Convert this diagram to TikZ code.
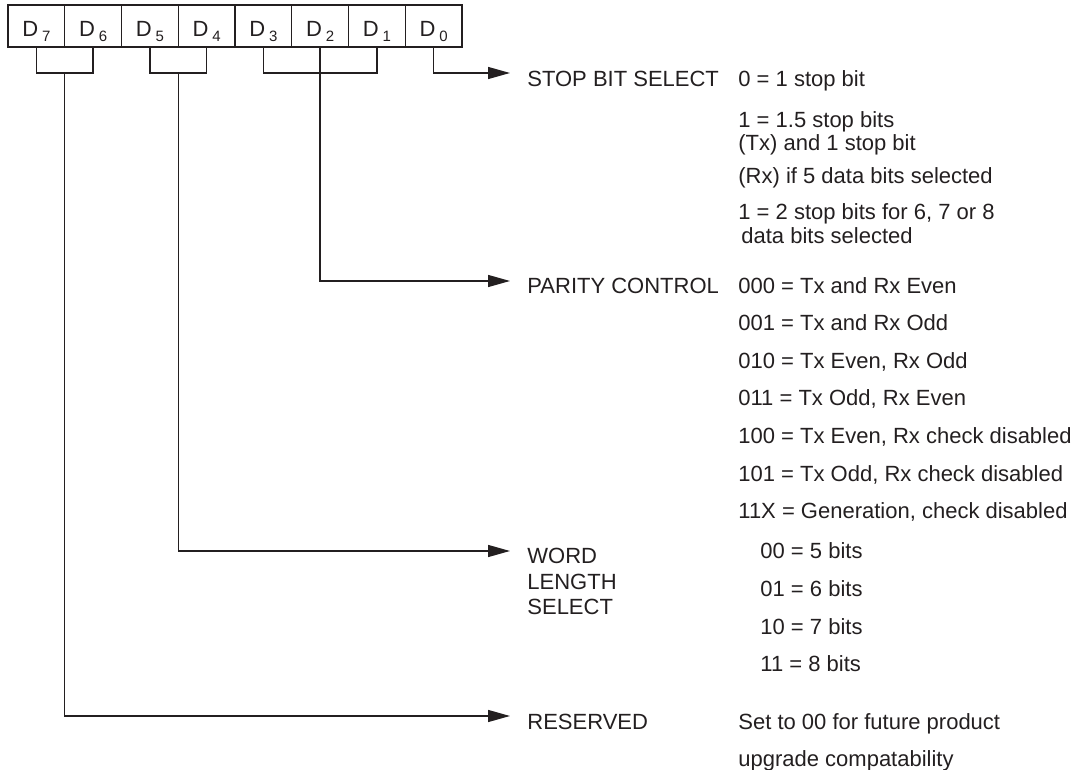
\documentclass[tikz,border=0pt]{standalone}
\usepackage{fontspec}
\setmainfont{Liberation Sans}
\usetikzlibrary{arrows.meta}
\definecolor{ink}{RGB}{35,31,32}
\newcommand{\bitlbl}[1]{D\kern2pt\raisebox{-2.5pt}{\fontsize{7.5}{8}\selectfont #1}}
\begin{document}
\begin{tikzpicture}[x=0.5pt,y=-0.5pt,
  ln/.style={draw=ink,line width=0.7pt},
  arr/.style={ln,-{Triangle[length=11pt,width=6pt]}},
  cell/.style={draw=ink,line width=0.7pt,minimum width=28.375pt,minimum height=21pt,inner sep=0pt},
  txt/.style={anchor=base west,inner sep=0pt,text=ink,font=\fontsize{11}{13}\selectfont},
  lab/.style={anchor=base,inner sep=0pt,text=ink,font=\fontsize{11}{13}\selectfont},
]
\useasboundingbox (0,0) rectangle (1083,770);
% register cells
\node[cell] (c7) at (36.375,26) {};
\node[cell] (c6) at (93.125,26) {};
\node[cell] (c5) at (149.875,26) {};
\node[cell] (c4) at (206.625,26) {};
\node[cell] (c3) at (263.375,26) {};
\node[cell] (c2) at (320.125,26) {};
\node[cell] (c1) at (376.875,26) {};
\node[cell] (c0) at (433.625,26) {};
% cell labels
\node[lab] (l7) at (36.375,37) {\bitlbl{7}};
\node[lab] (l6) at (93.125,37) {\bitlbl{6}};
\node[lab] (l5) at (149.875,37) {\bitlbl{5}};
\node[lab] (l4) at (206.625,37) {\bitlbl{4}};
\node[lab] (l3) at (263.375,37) {\bitlbl{3}};
\node[lab] (l2) at (320.125,37) {\bitlbl{2}};
\node[lab] (l1) at (376.875,37) {\bitlbl{1}};
\node[lab] (l0) at (433.625,37) {\bitlbl{0}};
% junctions and arrow ends
\coordinate (j76) at (64.75,73);
\coordinate (j54) at (178.25,73);
\coordinate (j31) at (320.125,73);
\coordinate (tStop) at (510,73);
\coordinate (tPar) at (510,281);
\coordinate (tWL) at (510,551);
\coordinate (tRes) at (510,716);
% brackets
\draw[ln] (c7.south) |- (j76) -| (c6.south);
\draw[ln] (c5.south) |- (j54) -| (c4.south);
\draw[ln] (c3.south) |- (j31) -| (c1.south);
% arrows
\draw[arr] (c0.south) |- (tStop);
\draw[arr] (c2.south) |- (tPar);
\draw[arr] (j54) |- (tWL);
\draw[arr] (j76) |- (tRes);
% field names
\node[txt] (nStop) at (527,87) {STOP BIT SELECT};
\node[txt] (nPar) at (527,293.5) {PARITY CONTROL};
\node[txt] (nW1) at (527,563) {WORD};
\node[txt] (nW2) at (527,589) {LENGTH};
\node[txt] (nW3) at (527,614) {SELECT};
\node[txt] (nRes) at (527,729) {RESERVED};
% stop bit values
\node[txt] (s1) at (738,87) {0 = 1 stop bit};
\node[txt] (s2) at (738,128) {1 = 1.5 stop bits};
\node[txt] (s3) at (738,151) {(Tx) and 1 stop bit};
\node[txt] (s4) at (738,184) {(Rx) if 5 data bits selected};
\node[txt] (s5) at (738,220) {1 = 2 stop bits for 6, 7 or 8};
\node[txt] (s6) at (741,244) {data bits selected};
% parity values
\node[txt] (p1) at (738,293.5) {000 = Tx and Rx Even};
\node[txt] (p2) at (738,331) {001 = Tx and Rx Odd};
\node[txt] (p3) at (738,368.5) {010 = Tx Even, Rx Odd};
\node[txt] (p4) at (738,406) {011 = Tx Odd, Rx Even};
\node[txt] (p5) at (738,443.5) {100 = Tx Even, Rx check disabled};
\node[txt] (p6) at (738,481) {101 = Tx Odd, Rx check disabled};
\node[txt] (p7) at (738,518.5) {11X = Generation, check disabled};
% word length values
\node[txt] (w1) at (760,559) {00 = 5 bits};
\node[txt] (w2) at (760,596.5) {01 = 6 bits};
\node[txt] (w3) at (760,634) {10 = 7 bits};
\node[txt] (w4) at (760,671.5) {11 = 8 bits};
% reserved
\node[txt] (r1) at (738,729) {Set to 00 for future product};
\node[txt] (r2) at (738,766) {upgrade compatability};
\end{tikzpicture}
\end{document}
